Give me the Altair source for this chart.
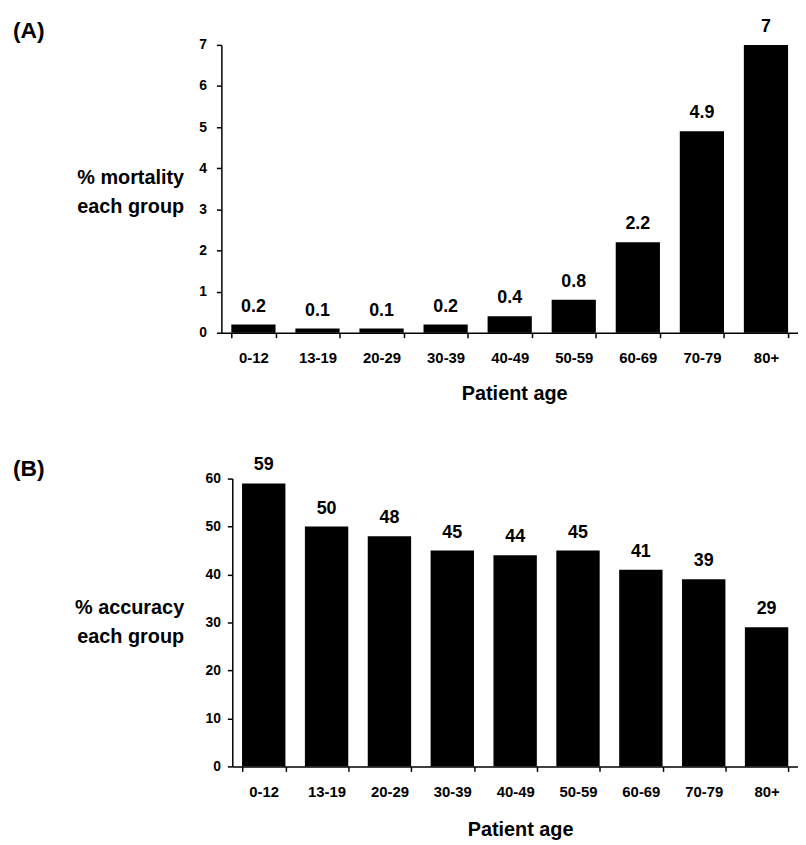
import altair as alt
import pandas as pd

ages = ["0-12", "13-19", "20-29", "30-39", "40-49", "50-59", "60-69", "70-79", "80+"]
mortality = [0.2, 0.1, 0.1, 0.2, 0.4, 0.8, 2.2, 4.9, 7]
accuracy = [59, 50, 48, 45, 44, 45, 41, 39, 29]
mortality_ticks = [0, 1, 2, 3, 4, 5, 6, 7]
accuracy_ticks = [0, 10, 20, 30, 40, 50, 60]
tags = ["(A)", "(B)"]
y_titles = [["% mortality", "each group"], ["% accuracy", "each group"]]
x_title = "Patient age"

FONT = "Liberation Sans"
W = 581
H = 290


def panel(values, ymax, yticks, ytitle, tag, y_offset, x_range, ylab_pad,
          ytitle_x, ytitle_y, xtitle_pad, xtitle_x, tag_y):
    df = pd.DataFrame({"age": ages, "value": values,
                       "label": [str(v) for v in values]})
    sc = dict(paddingInner=0.31, paddingOuter=0.155)
    if x_range is not None:
        sc["range"] = x_range
    x = alt.X("age:N", sort=ages, scale=alt.Scale(**sc),
              axis=alt.Axis(title=x_title, labelAngle=0, tickBand="extent",
                            labelFontSize=15, labelPadding=13,
                            titlePadding=xtitle_pad, titleX=xtitle_x))
    y = alt.Y("value:Q", scale=alt.Scale(domain=[0, ymax], nice=False, zero=True),
              axis=alt.Axis(values=yticks, title=ytitle, titleAngle=0,
                            titleAlign="right", titleBaseline="alphabetic",
                            titleX=ytitle_x, titleY=ytitle_y, titleLineHeight=29,
                            offset=y_offset, labelFontSize=14,
                            labelPadding=ylab_pad))
    bars = alt.Chart(df).mark_bar(color="black").encode(x=x, y=y)
    text = alt.Chart(df).mark_text(
        dy=-13, baseline="alphabetic", font=FONT, fontWeight="bold",
        fontSize=18, color="black"
    ).encode(x=alt.X("age:N", sort=ages), y="value:Q", text="label:N")
    tagc = alt.Chart(pd.DataFrame({"t": [tag]})).mark_text(
        align="left", baseline="alphabetic", font=FONT, fontWeight="bold",
        fontSize=23, color="black"
    ).encode(x=alt.value(-210), y=alt.value(tag_y), text="t:N")
    return alt.layer(bars, text, tagc).properties(width=W, height=H)


a = panel(mortality, 7, mortality_ticks, y_titles[0], tags[0], 0, None, 10,
          -38, 140, 18, 295, -7)
b = panel(accuracy, 60, accuracy_ticks, y_titles[1], tags[1], -11, [11, W], 7,
          -49, 136, 21, 301, -3)

chart = alt.vconcat(a, b, spacing=147, bounds="flush").properties(
    padding={"left": 5, "top": 7, "right": 0, "bottom": 0}
).configure_view(stroke=None).configure_axis(
    domainColor="black", domainWidth=1.5, tickColor="black", tickWidth=1.5,
    tickSize=5, grid=False, labelFont=FONT, labelFontWeight="bold",
    labelColor="black", titleFont=FONT, titleFontWeight="bold",
    titleFontSize=20, titleColor="black"
)

chart.save("out.html", embed_options={"renderer": "svg", "actions": False})
